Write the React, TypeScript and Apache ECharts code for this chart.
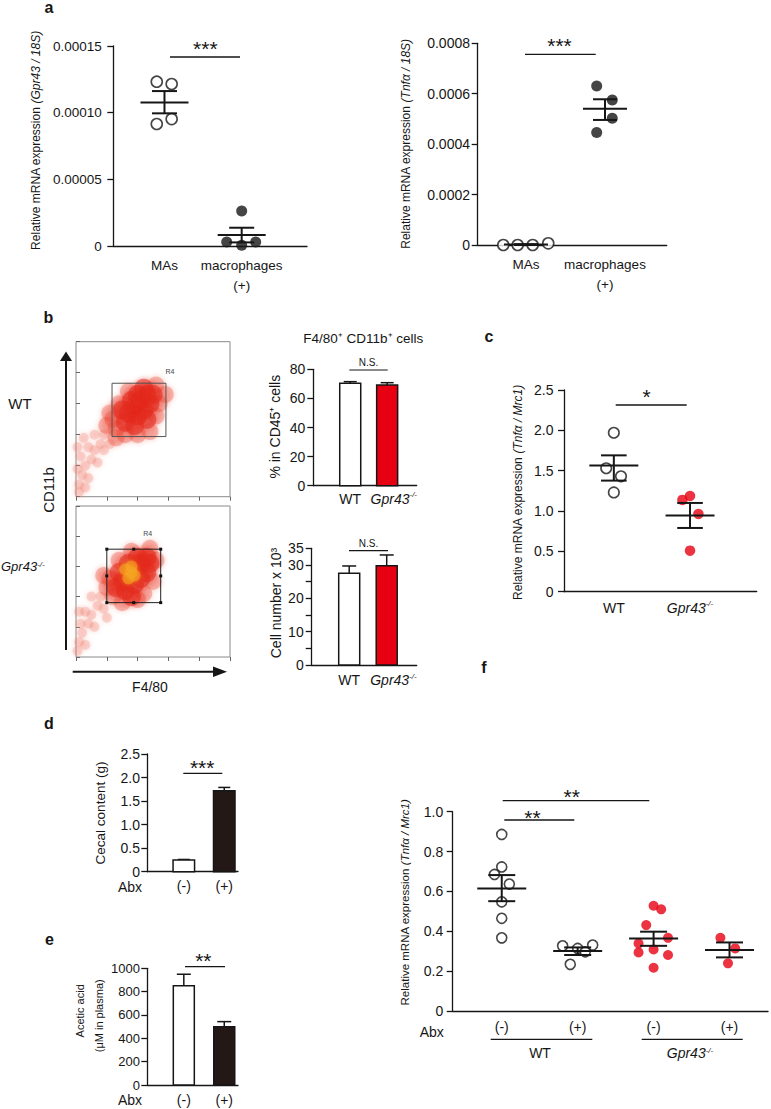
import React, { useEffect, useRef } from 'react';
import * as echarts from 'echarts';

const FONT = '"Liberation Sans", Arial, Helvetica, sans-serif';
type Pt = [number, number];

// ---------- Panel a (left): Gpr43 / 18S ----------
const aCategories = ['MAs', 'macrophages\n(+)'];
const aLeftMAs = [0.0001232, 0.0001215, 0.0000915, 0.0000952];
const aLeftMAsJitter = [-0.1, 0.093, -0.1, 0.093];
const aLeftMac = [0.0000262, 0.000003, 0.0000005, 0.000003];
const aLeftMacJitter = [0, -0.194, 0, 0.181];
const aLeftMean = [0.0001077, 0.0000082];
const aLeftSemLow = [0.0000995, 0.0000027];
const aLeftSemHigh = [0.0001162, 0.0000137];

// ---------- Panel a (right): Tnfa / 18S ----------
const aRightMAs = [0, 0, 0, 0.0000067];
const aRightMAsJitter = [-0.287, -0.105, 0.085, 0.282];
const aRightMac = [0.000631, 0.000575, 0.000503, 0.000446];
const aRightMacJitter = [-0.105, 0.092, 0.092, -0.105];
const aRightMean = [0.0000017, 0.00054];
const aRightSemLow = [0, 0.000496];
const aRightSemHigh = [0.0000034, 0.000578];

// ---------- Panel b: flow cytometry density (F4/80 vs CD11b, 5 decades) ----------
const flowWTCore: Pt[] = [[1.7, 2.7], [1.9, 2.9], [2.1, 3.1], [2.3, 3.3], [2.0, 2.6], [2.2, 2.8], [2.4, 3.0], [1.8, 3.1], [2.0, 3.3], [2.2, 3.5], [1.6, 2.4], [1.9, 2.3], [2.3, 2.5], [1.5, 2.8], [2.5, 3.3]];
const flowWTBody: Pt[] = [[1.2, 2.5], [1.3, 2.2], [1.1, 2.7], [1.4, 3.0], [1.7, 3.4], [2.6, 3.6], [2.7, 3.0], [2.6, 2.6], [2.4, 2.1], [2.0, 2.0], [1.6, 2.0], [1.3, 1.9], [2.9, 3.3], [1.0, 2.3]];
const flowWTTail: Pt[] = [[0.9, 2.0], [0.8, 1.7], [0.6, 1.5], [0.5, 1.2], [0.3, 1.0], [0.2, 0.7], [0.1, 0.4], [0.05, 0.9], [0.15, 1.3], [0.4, 1.6], [0.7, 1.1], [0.4, 0.6], [0.1, 0.15], [0.3, 0.3], [0.9, 1.5], [0.6, 2.0], [1.1, 1.7], [0.25, 1.9], [0.05, 1.6]];
const flowKOCore: Pt[] = [[1.5, 2.5], [1.7, 2.7], [1.9, 2.9], [2.1, 3.1], [2.3, 3.3], [1.6, 2.2], [1.9, 2.4], [2.1, 2.6], [2.3, 2.8], [1.4, 2.8], [1.7, 3.1], [2.0, 3.3], [1.3, 2.3], [2.4, 3.1], [1.8, 2.0]];
const flowKOHot: Pt[] = [[1.7, 2.6], [1.8, 2.8], [1.9, 2.7], [1.6, 2.9], [1.8, 3.0]];
const flowKOBody: Pt[] = [[1.0, 2.3], [1.1, 2.6], [1.2, 2.0], [1.4, 3.2], [1.8, 3.5], [2.4, 3.6], [2.6, 3.2], [2.5, 2.5], [2.2, 2.1], [1.5, 1.8], [2.0, 1.9], [0.9, 2.7]];
const flowKOTail: Pt[] = [[0.8, 2.0], [0.7, 1.7], [0.5, 1.4], [0.4, 1.1], [0.2, 0.8], [0.1, 0.5], [0.05, 0.2], [0.3, 1.5], [0.6, 1.0], [0.15, 1.1], [0.5, 2.0], [0.9, 1.6], [0.3, 0.4], [0.1, 1.5], [1.0, 1.3]];
const flowGateWT = [1.17, 1.94, 2.92, 3.66];
const flowGateKO = [1.0, 1.8, 2.75, 3.57];

// ---------- Panel b: bars ----------
const bCategories = ['WT', '{i|Gpr43}{sup|-/-}'];
const bLabelPositions = [1, 2.18];
const bPercent = [70.4, 69.2];
const bPercentErr = [71.5, 70.8];
const bCount = [27.5, 29.8];
const bCountErr = [29.7, 33.0];
const bCountTickLabels = ['0', '10', '20', '30', '35'];

// ---------- Panel c ----------
const cCategories = ['WT', '{i|Gpr43}{sup|-/-}'];
const cWT = [1.97, 1.53, 1.43, 1.23];
const cWTJitter = [0, -0.1, 0.094, 0];
const cKO = [1.138, 1.187, 0.964, 0.509];
const cKOJitter = [-0.1, 0, 0.11, 0];
const cMean = [1.563, 0.943];
const cSemLow = [1.377, 0.79];
const cSemHigh = [1.69, 1.1];

// ---------- Panel d / e ----------
const abxCategories = ['(-)', '(+)'];
const dCecal = [0.25, 1.72];
const dCecalErr = [0.26, 1.79];
const eAcetic = [851, 500];
const eAceticErr = [949, 543];

// ---------- Panel f ----------
const fCategories = ['(-)', '(+)', '(-)', '(+)'];
const fWTneg = [0.886, 0.723, 0.685, 0.637, 0.548, 0.465, 0.367];
const fWTnegJitter = [0, 0, -0.096, 0.1, 0, 0, 0];
const fWTpos = [0.327, 0.314, 0.297, 0.331, 0.234];
const fWTposJitter = [-0.198, 0, 0.1, 0.198, -0.097];
const fKOneg = [0.528, 0.51, 0.431, 0.339, 0.367, 0.309, 0.294, 0.281, 0.217];
const fKOnegJitter = [0, 0.1, -0.097, -0.198, 0.19, 0, -0.198, 0.19, 0];
const fKOpos = [0.367, 0.314, 0.239];
const fKOposJitter = [-0.12, 0.075, -0.02];
const fMean = [0.615, 0.301, 0.364, 0.306];
const fSemLow = [0.551, 0.281, 0.327, 0.269];
const fSemHigh = [0.682, 0.319, 0.398, 0.344];

// ---------- colors ----------
const INK = '#161616';
const RED = '#e60012';
const DARK = '#231815';

function pts(center: number, values: number[], jitter: number[]): Pt[] {
  return values.map((v, i) => [center + jitter[i], v] as Pt);
}

function yAxis(grid: number, min: number, max: number, interval: number, fmt: (v: number) => string, fontSize: number, margin: number) {
  return {
    type: 'value', gridIndex: grid, min, max, interval,
    axisLine: { show: true, lineStyle: { color: INK, width: 1.3 } },
    axisTick: { show: true, length: 6, lineStyle: { color: INK, width: 1.3 } },
    axisLabel: { fontSize, color: INK, fontFamily: FONT, margin, formatter: fmt, showMinLabel: true, showMaxLabel: true },
    splitLine: { show: false },
  };
}

function xAxisCat(grid: number, min: number, max: number, names: string[], fontSize: number, margin: number, lineHeight: number, labelPositions?: number[]) {
  const positions = labelPositions || names.map((_, i) => i + 1);
  return {
    type: 'value', gridIndex: grid, min, max,
    axisLine: { show: true, onZero: false, lineStyle: { color: INK, width: 1.3 } },
    axisTick: { show: false },
    splitLine: { show: false },
    axisLabel: {
      customValues: positions,
      hideOverlap: false,
      fontSize, color: INK, fontFamily: FONT, margin, lineHeight,
      rich: {
        i: { fontStyle: 'italic', fontSize, fontFamily: FONT, color: INK, lineHeight },
        sup: { fontStyle: 'italic', fontSize: 8, fontFamily: FONT, color: INK, verticalAlign: 'top', lineHeight },
      },
      formatter: (v: number) => {
        const idx = positions.findIndex((p) => Math.abs(p - v) < 1e-6);
        return idx >= 0 ? names[idx] : '';
      },
    },
  };
}

function flowAxes(grid: number) {
  const tick = { show: true, length: 4, lineStyle: { color: '#666', width: 1 } };
  return {
    x: { type: 'value', gridIndex: grid, min: 0, max: 5, interval: 1, axisLine: { show: false }, axisTick: tick, axisLabel: { show: false }, splitLine: { show: false } },
    y: { type: 'value', gridIndex: grid, min: 0, max: 5, interval: 1, axisLine: { show: false }, axisTick: { ...tick, inside: true }, axisLabel: { show: false }, splitLine: { show: false } },
  };
}

function scatter(grid: number, data: Pt[], itemStyle: any, size: number, z = 3) {
  return { type: 'scatter', xAxisIndex: grid, yAxisIndex: grid, data, symbol: 'circle', symbolSize: size, itemStyle, clip: false, silent: true, z };
}

function flowCloud(grid: number, data: Pt[], color: string, size: number, opacity: number) {
  return {
    type: 'scatter', xAxisIndex: grid, yAxisIndex: grid, data, symbol: 'circle', symbolSize: size,
    itemStyle: { color, opacity, shadowBlur: 5, shadowColor: color },
    clip: true, silent: true, z: 2,
  };
}

function gate(grid: number, g: number[], handles: boolean) {
  return {
    type: 'custom', xAxisIndex: grid, yAxisIndex: grid, data: [g], z: 6, silent: true, clip: false,
    renderItem: (_p: any, api: any) => {
      const a = api.coord([api.value(0), api.value(1)]);
      const b = api.coord([api.value(2), api.value(3)]);
      const x0 = Math.min(a[0], b[0]);
      const y0 = Math.min(a[1], b[1]);
      const w = Math.abs(b[0] - a[0]);
      const h = Math.abs(b[1] - a[1]);
      const children: any[] = [
        { type: 'rect', shape: { x: x0, y: y0, width: w, height: h }, style: { fill: 'none', stroke: handles ? '#222' : '#555', lineWidth: 1 } },
      ];
      if (handles) {
        const hx = [x0, x0 + w / 2, x0 + w];
        const hy = [y0, y0 + h / 2, y0 + h];
        hx.forEach((xx, ix) => hy.forEach((yy, iy) => {
          if (ix === 1 && iy === 1) return;
          children.push({ type: 'rect', shape: { x: xx - 1.5, y: yy - 1.5, width: 3, height: 3 }, style: { fill: '#111' } });
        }));
      }
      return { type: 'group', children };
    },
  };
}

function meanSem(grid: number, means: number[], lows: number[], highs: number[], halfMean: number, halfCap: number) {
  const data = means.map((m, i) => [i + 1, m, lows[i], highs[i]]);
  return {
    type: 'custom', xAxisIndex: grid, yAxisIndex: grid, data, z: 5, clip: false, silent: true,
    encode: { x: 0, y: 1 },
    renderItem: (_p: any, api: any) => {
      const x = api.value(0);
      const pm = api.coord([x, api.value(1)]);
      const pl = api.coord([x, api.value(2)]);
      const ph = api.coord([x, api.value(3)]);
      const st = { stroke: INK, lineWidth: 2 };
      return {
        type: 'group',
        children: [
          { type: 'line', shape: { x1: pl[0], y1: pl[1], x2: ph[0], y2: ph[1] }, style: st },
          { type: 'line', shape: { x1: pl[0] - halfCap, y1: pl[1], x2: pl[0] + halfCap, y2: pl[1] }, style: st },
          { type: 'line', shape: { x1: ph[0] - halfCap, y1: ph[1], x2: ph[0] + halfCap, y2: ph[1] }, style: st },
          { type: 'line', shape: { x1: pm[0] - halfMean, y1: pm[1], x2: pm[0] + halfMean, y2: pm[1] }, style: st },
        ],
      };
    },
  };
}

function bars(grid: number, values: number[], errs: number[], fills: string[], barW: number, capHalf: number) {
  const data = values.map((v, i) => [i + 1, v, errs[i]]);
  return {
    type: 'custom', xAxisIndex: grid, yAxisIndex: grid, data, z: 3, clip: false, silent: true,
    encode: { x: 0, y: 1 },
    renderItem: (p: any, api: any) => {
      const x = api.value(0);
      const top = api.coord([x, api.value(1)]);
      const base = api.coord([x, 0]);
      const e = api.coord([x, api.value(2)]);
      const st = { stroke: INK, lineWidth: 1.5 };
      return {
        type: 'group',
        children: [
          { type: 'line', shape: { x1: top[0], y1: top[1], x2: e[0], y2: e[1] }, style: st },
          { type: 'line', shape: { x1: e[0] - capHalf, y1: e[1], x2: e[0] + capHalf, y2: e[1] }, style: st },
          { type: 'rect', shape: { x: top[0] - barW / 2, y: top[1], width: barW, height: base[1] - top[1] }, style: { fill: fills[p.dataIndex], stroke: INK, lineWidth: 1.5 } },
        ],
      };
    },
  };
}

// ---------- graphic helpers ----------
function txt(x: number, y: number, text: string, fontSize: number, extra: any = {}) {
  const { rotation, ...style } = extra;
  return {
    type: 'text', x, y, rotation: rotation || 0, silent: true,
    style: { text, fontSize, fontFamily: FONT, fill: INK, align: 'center', verticalAlign: 'middle', ...style },
  };
}
function ln(x1: number, y1: number, x2: number, y2: number, w = 1.3) {
  return { type: 'line', silent: true, shape: { x1, y1, x2, y2 }, style: { stroke: INK, lineWidth: w } };
}
function richLabel(fontSize: number) {
  return {
    i: { fontStyle: 'italic', fontSize, fontFamily: FONT, fill: INK },
    sup: { fontStyle: 'italic', fontSize: Math.round(fontSize * 0.6), fontFamily: FONT, fill: INK, verticalAlign: 'top' },
  };
}
function yLabel(x: number, y: number, text: string, fontSize: number) {
  return txt(x, y, text, fontSize, { rotation: Math.PI / 2, rich: richLabel(fontSize) });
}
function stars(x: number, y: number, s: string) {
  return txt(x, y + 3, s, 21);
}

const fmtFixed = (d: number) => (v: number) => (v === 0 ? '0' : v.toFixed(d));

export default function App() {
  const ref = useRef<HTMLDivElement>(null);
  useEffect(() => {
    if (!ref.current) return;
    const chart = echarts.init(ref.current, undefined, { renderer: 'svg' });
    const fa2 = flowAxes(2);
    const fa3 = flowAxes(3);
    const option: any = {
      animation: false,
      backgroundColor: '#ffffff',
      textStyle: { fontFamily: FONT },
      grid: [
        { left: 113.3, top: 46, width: 193.7, height: 200, outerBoundsMode: 'none' },
        { left: 477.7, top: 43.3, width: 189, height: 201.7, outerBoundsMode: 'none' },
        { left: 76, top: 341.7, width: 154, height: 155, show: true, borderColor: '#8a8a8a', borderWidth: 1, backgroundColor: '#fff', outerBoundsMode: 'none' },
        { left: 76, top: 506, width: 154, height: 151, show: true, borderColor: '#8a8a8a', borderWidth: 1, backgroundColor: '#fff', outerBoundsMode: 'none' },
        { left: 313.3, top: 369.3, width: 103.4, height: 116.4, outerBoundsMode: 'none' },
        { left: 311.7, top: 548.3, width: 105, height: 116.7, outerBoundsMode: 'none' },
        { left: 564, top: 390, width: 192.7, height: 201.7, outerBoundsMode: 'none' },
        { left: 147.3, top: 754, width: 90.7, height: 117.7, outerBoundsMode: 'none' },
        { left: 147.3, top: 968.3, width: 90.7, height: 116.7, outerBoundsMode: 'none' },
        { left: 452.7, top: 811.7, width: 315.3, height: 199.3, outerBoundsMode: 'none' },
      ],
      xAxis: [
        xAxisCat(0, 0.337, 2.846, aCategories, 13.5, 9, 20),
        xAxisCat(1, 0.389, 2.781, aCategories, 13.5, 9, 20),
        fa2.x,
        fa3.x,
        xAxisCat(4, 0, 2.8, bCategories, 14, 5, 16, bLabelPositions),
        xAxisCat(5, 0, 2.8, bCategories, 14, 7, 16, bLabelPositions),
        xAxisCat(6, 0.346, 2.875, cCategories, 14, 8, 16),
        xAxisCat(7, 0.097, 2.34, abxCategories, 14, 6, 16),
        xAxisCat(8, 0.097, 2.34, abxCategories, 14, 7, 16),
        xAxisCat(9, 0.354, 4.507, fCategories, 14, 8, 16),
      ],
      yAxis: [
        yAxis(0, 0, 0.00015, 0.00005, fmtFixed(5), 13.5, 11.5),
        yAxis(1, 0, 0.0008, 0.0002, fmtFixed(4), 14, 7.7),
        fa2.y,
        fa3.y,
        yAxis(4, 0, 80, 20, (v) => String(v), 14, 8),
        yAxis(5, 0, 35, 5, (v) => (bCountTickLabels.includes(String(v)) ? String(v) : ''), 14, 8),
        yAxis(6, 0, 2.5, 0.5, fmtFixed(1), 14, 10.5),
        yAxis(7, 0, 2.5, 0.5, fmtFixed(1), 14, 7.3),
        yAxis(8, 0, 1000, 200, (v) => String(v), 13, 7.3),
        yAxis(9, 0, 1.0, 0.2, fmtFixed(1), 14, 9.4),
      ],
      series: [
        // a left
        scatter(0, pts(1, aLeftMAs, aLeftMAsJitter), { color: '#fff', borderColor: INK, borderWidth: 1.6 }, 11),
        scatter(0, pts(2, aLeftMac, aLeftMacJitter), { color: INK }, 11),
        meanSem(0, aLeftMean, aLeftSemLow, aLeftSemHigh, 24, 12.5),
        // a right
        scatter(1, pts(1, aRightMAs, aRightMAsJitter), { color: '#fff', borderColor: INK, borderWidth: 1.6 }, 11),
        scatter(1, pts(2, aRightMac, aRightMacJitter), { color: INK }, 11),
        meanSem(1, aRightMean, aRightSemLow, aRightSemHigh, 22, 12),
        // flow WT
        flowCloud(2, flowWTTail, '#f07a6a', 10, 0.25),
        flowCloud(2, flowWTBody, '#ea4530', 17, 0.3),
        flowCloud(2, flowWTCore, '#e3281a', 19, 0.5),
        gate(2, flowGateWT, false),
        // flow KO
        flowCloud(3, flowKOTail, '#f07a6a', 10, 0.25),
        flowCloud(3, flowKOBody, '#ea4530', 17, 0.3),
        flowCloud(3, flowKOCore, '#e3281a', 19, 0.5),
        flowCloud(3, flowKOHot, '#f5a623', 12, 0.55),
        gate(3, flowGateKO, true),
        // b bars
        bars(4, bPercent, bPercentErr, ['#ffffff', RED], 21, 6.5),
        bars(5, bCount, bCountErr, ['#ffffff', RED], 21, 7),
        // c
        scatter(6, pts(1, cWT, cWTJitter), { color: '#fff', borderColor: INK, borderWidth: 1.6 }, 10.5),
        scatter(6, pts(2, cKO, cKOJitter), { color: RED }, 10.5),
        meanSem(6, cMean, cSemLow, cSemHigh, 24.5, 12.8),
        // d, e
        bars(7, dCecal, dCecalErr, ['#ffffff', DARK], 21.5, 6),
        bars(8, eAcetic, eAceticErr, ['#ffffff', DARK], 21, 7),
        // f
        scatter(9, pts(1, fWTneg, fWTnegJitter), { color: '#fff', borderColor: INK, borderWidth: 1.6 }, 10),
        scatter(9, pts(2, fWTpos, fWTposJitter), { color: '#fff', borderColor: INK, borderWidth: 1.6 }, 10),
        scatter(9, pts(3, fKOneg, fKOnegJitter), { color: RED }, 10),
        scatter(9, pts(4, fKOpos, fKOposJitter), { color: RED }, 10),
        meanSem(9, fMean, fSemLow, fSemHigh, 24.5, 13.5),
      ],
      graphic: {
        elements: [
          // panel letters
          txt(49, 7, 'a', 16, { fontWeight: 'bold' }),
          txt(48.5, 317.5, 'b', 16, { fontWeight: 'bold' }),
          txt(489, 336, 'c', 16, { fontWeight: 'bold' }),
          txt(49, 723, 'd', 16, { fontWeight: 'bold' }),
          txt(49.5, 939.5, 'e', 16, { fontWeight: 'bold' }),
          txt(484, 667, 'f', 16, { fontWeight: 'bold' }),
          // y axis titles
          yLabel(35.8, 140.5, 'Relative mRNA expression {i|(Gpr43 / 18S)}', 12),
          yLabel(405.8, 144, 'Relative mRNA expression {i|(Tnfα / 18S)}', 12),
          yLabel(275, 426.7, '% in CD45⁺ cells', 14),
          yLabel(276, 603, 'Cell number x 10³', 14),
          yLabel(518.3, 492.5, 'Relative mRNA expression {i|(Tnfα / Mrc1)}', 12),
          yLabel(100.8, 813, 'Cecal content (g)', 13.5),
          yLabel(80, 1010.8, 'Acetic acid', 11),
          yLabel(99, 1015.8, '(μM in plasma)', 11),
          yLabel(405, 902.5, 'Relative mRNA expression {i|(Tnfα / Mrc1)}', 11.5),
          // significance a
          ln(170, 57, 240, 57), stars(205.3, 45.8, '***'),
          ln(525, 54.3, 595.7, 54.3), stars(559.5, 42.5, '***'),
          // c
          ln(615.7, 405, 686.7, 405), stars(646.7, 393.7, '*'),
          // d, e
          ln(183.3, 773.3, 222.3, 773.3), stars(202.2, 764.5, '***'),
          ln(185, 966.7, 225, 966.7), stars(203.3, 957, '**'),
          // f
          ln(502.7, 800.7, 649.3, 800.7), stars(571.7, 793.7, '**'),
          ln(504.3, 820, 574.3, 820), stars(532.5, 814.5, '**'),
          // b texts
          txt(363.3, 338.3, 'F4/80⁺ CD11b⁺ cells', 13.5),
          ln(349.3, 370, 387.7, 370, 1.2), txt(368.5, 362.7, 'N.S.', 10),
          ln(349, 550.7, 388, 550.7, 1.2), txt(368.5, 543.3, 'N.S.', 10),
          txt(20, 403, 'WT', 15),
          txt(1, 566.7, '{i|Gpr43}{sup|-/-}', 13, { align: 'left', rich: richLabel(13) }),
          txt(48, 490, 'CD11b', 15, { rotation: Math.PI / 2 }),
          txt(150, 686.7, 'F4/80', 14),
          txt(170, 371, 'R4', 7, { fill: '#444' }),
          txt(147.7, 533, 'R4', 7, { fill: '#444' }),
          // arrows
          ln(66, 650, 66, 358, 2),
          { type: 'polygon', silent: true, shape: { points: [[66, 351.5], [60, 361], [72, 361]] }, style: { fill: INK } },
          ln(72.7, 671.7, 219, 671.7, 2),
          { type: 'polygon', silent: true, shape: { points: [[227, 671.7], [213, 666.5], [213, 677]] }, style: { fill: INK } },
          // Abx labels
          txt(130, 887, 'Abx', 14),
          txt(130, 1100, 'Abx', 14),
          txt(431.7, 1032, 'Abx', 14),
          // f group brackets
          ln(490.7, 1039.3, 592.3, 1039.3),
          ln(641.7, 1039.3, 742.7, 1039.3),
          txt(540, 1053.3, 'WT', 14),
          txt(690, 1053, '{i|Gpr43}{sup|-/-}', 14, { rich: richLabel(14) }),
        ],
      },
    };
    chart.setOption(option);
    return () => chart.dispose();
  }, []);
  return (
    <div
      ref={ref}
      style={{ position: 'absolute', left: 0, top: 0, width: 771, height: 1109, background: '#fff' }}
    />
  );
}
